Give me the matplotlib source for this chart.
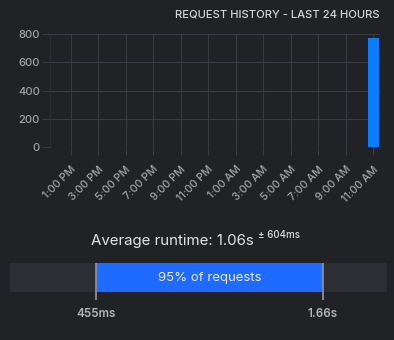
import matplotlib.pyplot as plt
import matplotlib.transforms as mtransforms
import numpy as np

plt.rcParams['font.family'] = ['Inter', 'DejaVu Sans']

# hourly request counts, 12 PM yesterday .. 11 AM today
hours = ['12:00 PM', '1:00 PM', '2:00 PM', '3:00 PM', '4:00 PM', '5:00 PM',
         '6:00 PM', '7:00 PM', '8:00 PM', '9:00 PM', '10:00 PM', '11:00 PM',
         '12:00 AM', '1:00 AM', '2:00 AM', '3:00 AM', '4:00 AM', '5:00 AM',
         '6:00 AM', '7:00 AM', '8:00 AM', '9:00 AM', '10:00 AM', '11:00 AM']
counts = [0] * 23 + [770]
yticks = [0, 200, 400, 600, 800]

# runtime stats (ms)
avg_ms = 1060
std_ms = 604
p_low_ms = 455
p_high_ms = 1660
range_max_ms = 2000

bg = '#212226'
grid = '#3a3b40'
label = '#a3a4a8'

def fmt_ms(v):
    if v >= 1000:
        return '%.2fs' % (v / 1000)
    return '%dms' % v

fig = plt.figure(figsize=(3.94, 3.4), dpi=100)
fig.patch.set_facecolor(bg)

# --- request history bars ---
ax = fig.add_axes([50 / 394, 1 - 147 / 340, 330 / 394, 113 / 340])
ax.set_facecolor(bg)
x = np.arange(len(hours))
ax.bar(x, counts, width=0.8, color='#0a7cff', zorder=3)
ax.set_xlim(-0.5, len(hours) - 0.5)
ax.set_ylim(0, 800)
ax.set_yticks(yticks)
tick_idx = x[1::2]
ax.set_xticks(tick_idx)
ax.set_xticklabels([hours[i] for i in tick_idx], rotation=45, ha='right',
                   rotation_mode='anchor', fontsize=7.8, color=label,
                   weight='medium')
# nudge the slanted labels left of their ticks
shift = mtransforms.ScaledTranslation(-6 / 100, 0, fig.dpi_scale_trans)
for t in ax.get_xticklabels():
    t.set_transform(t.get_transform() + shift)
ax.tick_params(axis='y', length=5.8, width=0.8, color=grid, pad=1.5,
               labelsize=8, labelcolor=label)
for t in ax.get_yticklabels():
    t.set_fontweight('medium')
ax.tick_params(axis='x', length=5.8, width=0.8, color=grid, pad=6.5)
ax.grid(True, color=grid, linewidth=0.8, zorder=0)
for s in ['top', 'right', 'bottom']:
    ax.spines[s].set_visible(False)
ax.spines['left'].set_color('#2c2d32')
ax.spines['left'].set_linewidth(0.8)

fig.text(380 / 394, 1 - 15 / 340, 'REQUEST HISTORY - LAST 24 HOURS',
         ha='right', va='center', fontsize=8.1, color='#d4d5d8',
         weight='medium')

# --- average runtime line ---
fig.text(254 / 394, 1 - 245 / 340, 'Average runtime: %s' % fmt_ms(avg_ms),
         ha='right', va='baseline', fontsize=10.8, color='#e2e3e6')
fig.text(258 / 394, 1 - 238 / 340, '\u00b1 %s' % fmt_ms(std_ms),
         ha='left', va='baseline', fontsize=7, color='#d8d9dc',
         weight='medium')

# --- 95% range bar ---
rx = fig.add_axes([10 / 394, 1 - 300 / 340, 377 / 394, 37 / 340])
rx.set_xlim(0, range_max_ms)
rx.set_ylim(0, 37)
rx.axis('off')
rx.barh(37 - 14.5, range_max_ms, height=29, left=0, color='#2c2e33')
rx.barh(37 - 14.5, p_high_ms - p_low_ms, height=29, left=p_low_ms,
        color='#1f6bff')
rx.text((p_low_ms + p_high_ms) / 2, 37 - 14.5, '95% of requests',
        ha='center', va='center', fontsize=9.5, color='#e8eaf0')
for v in (p_low_ms, p_high_ms):
    rx.plot([v, v], [0, 37], color='#8e8f94', linewidth=1.3,
            solid_capstyle='butt')
    fig.text((10 + v * 377 / range_max_ms) / 394, 1 - 314 / 340, fmt_ms(v),
             ha='center', va='center', fontsize=8.4, color='#b3b4b8',
             weight='semibold')

fig.savefig('out.png', dpi=100, facecolor=bg)
